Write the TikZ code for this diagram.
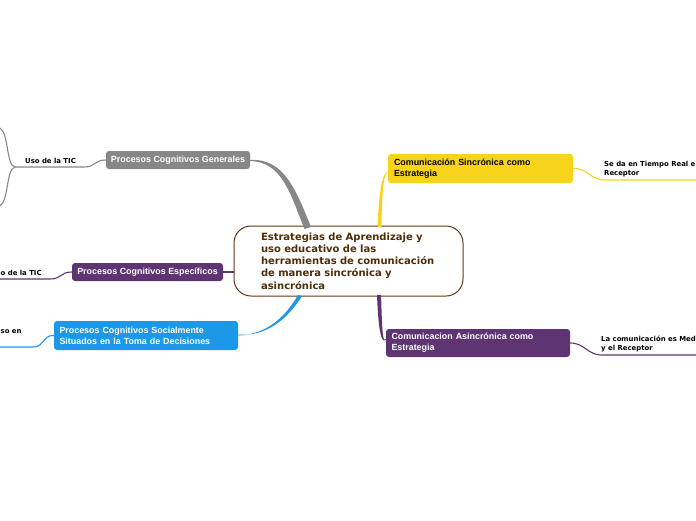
\documentclass[tikz,border=0pt]{standalone}
\usepackage{fontspec}
\setmainfont{Liberation Sans}
\newfontfamily\dvs{DejaVu Sans}
\definecolor{cgray}{HTML}{878787}
\definecolor{cpurple}{HTML}{5F3473}
\definecolor{cblue}{HTML}{1C98E8}
\definecolor{cyellow}{HTML}{F8D31B}
\definecolor{cbrown}{HTML}{5D3A12}
\definecolor{ctext}{HTML}{4D2F0A}
\tikzset{
  branch/.style={rounded corners=3pt, inner sep=0pt, font=\fontsize{8.9}{10.8}\selectfont\bfseries},
  leaf/.style={inner sep=0pt, font=\dvs\fontsize{6.9}{9}\selectfont\bfseries, text=black, align=left},
  sub/.style={line width=1.1pt},
}
\begin{document}
\begin{tikzpicture}[x=1pt,y=-1pt]
\clip (0,0) rectangle (696,520);
\fill[white] (0,0) rectangle (696,520);

% center
\node[draw=cbrown, line width=1pt, fill=white, rounded corners=17pt,
  minimum width=229pt, minimum height=70pt, text width=175pt, align=left,
  inner sep=0pt, text=ctext, font=\dvs\fontsize{10}{12.2}\selectfont\bfseries]
  (c) at (348.5,261) {Estrategias de Aprendizaje y\\uso educativo de las\\herramientas de comunicación\\de manera sincrónica y\\asincrónica};

% branch boxes
\node[branch, fill=cgray, text=white, minimum width=144pt, minimum height=18pt] (gen) at (178,160) {Procesos Cognitivos Generales};
\node[branch, fill=cpurple, text=white, minimum width=151pt, minimum height=18pt] (esp) at (147.5,272) {Procesos Cognitivos Específicos};
\node[branch, fill=cblue, text=white, minimum height=29pt, text width=173pt, inner xsep=5.5pt, align=left] (soc) at (146,335.5) {Procesos Cognitivos Socialmente\\Situados en la Toma de Decisiones};
\node[branch, fill=cyellow, text=black, minimum height=29pt, text width=173pt, inner xsep=6pt, align=left] (sin) at (480.5,168.5) {Comunicación Sincrónica como\\Estrategia};
\node[branch, fill=cpurple, text=white, minimum height=28pt, text width=173pt, inner xsep=5.5pt, align=left] (asi) at (478,343) {Comunicacion Asincrónica como\\Estrategia};

% main connectors (tapered)
\fill[cgray] (gen.east) .. controls (284,158) and (296,190) .. (311,227)
  -- (304.5,229) .. controls (290,193) and (282,162) .. ([yshift=-1pt]gen.east) -- cycle;
\fill[cyellow] ([yshift=-3pt]sin.west) .. controls (383,175) and (382,196) .. (381.5,227)
  -- (377.5,227) .. controls (379,196) and (381,175) .. ([yshift=-2.5pt]sin.west) -- cycle;
\fill[cpurple] (377,295) .. controls (378,320) and (380,345) .. ([yshift=3pt]asi.west)
  -- ([yshift=4pt]asi.west) .. controls (382,345) and (382,320) .. (381,295) -- cycle;
\fill[cblue] (298,295) .. controls (285,318) and (265,335) .. (soc.east)
  -- ([yshift=1pt]soc.east) .. controls (265,337) and (287,320) .. (302,296) -- cycle;
\draw[cpurple, line width=1.6pt] (c.west |- esp.east) -- (esp.east);

% leaves
\node[leaf, anchor=west] (uso1) at (25,161) {Uso de la TIC};
\node[leaf, anchor=west] (uso2) at (0.5,272.5) {o de la TIC};
\node[leaf, anchor=west] (uso3) at (0.5,331.5) {so en};
\node[leaf, anchor=north west] (tr) at (604,161.5) {Se da en Tiempo Real e\\Receptor};
\node[leaf, anchor=north west] (md) at (601,336) {La comunicación es Med\\y el Receptor};

\coordinate (g0) at (15,167);
\coordinate (gu) at (0,128);
\coordinate (gd) at (0,206);
\draw[sub, cgray] (gen.west) .. controls (94,160) and (96,167) .. (84,167) -- (g0);
\draw[sub, cgray] (g0) .. controls (6,165) and (9,134) .. (gu);
\draw[sub, cgray] (g0) .. controls (6,169) and (9,200) .. (gd);

\coordinate (e0) at (0,279);
\draw[sub, cpurple] (esp.west) .. controls (60,272) and (62,279) .. (50,279) -- (e0);
\coordinate (s0) at (0,347);
\draw[sub, cblue] (soc.west) .. controls (42,335) and (45,347) .. (33,347) -- (s0);
\coordinate (y0) at (696,180);
\draw[sub, cyellow] (sin.east) .. controls (588,168) and (590,180) .. (605,180) -- (y0);
\coordinate (p0) at (696,355);
\draw[sub, cpurple] (asi.east) .. controls (585,343) and (587,355) .. (602,355) -- (p0);
\end{tikzpicture}
\end{document}
